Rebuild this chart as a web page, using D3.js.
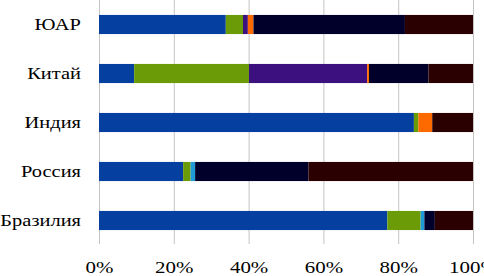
<!DOCTYPE html>
<html>
<head>
<meta charset="utf-8">
<script src="https://cdn.jsdelivr.net/npm/d3@7"></script>
<style>
  body { margin: 0; background: #fff; }
  svg { display: block; }
  text { font-family: "Liberation Serif", "Times New Roman", serif; }
</style>
</head>
<body>
<div id="chart"></div>
<script>
// categories, top to bottom
const countries = ["ЮАР", "Китай", "Индия", "Россия", "Бразилия"];

// series values (share in %), same order as countries
const s1 = [33.9, 9.4, 84.2, 22.5, 77.1];
const s2 = [4.6, 30.7, 1.2, 2.0, 8.9];
const s3 = [0, 0, 0, 1.2, 1.0];
const s4 = [1.3, 31.6, 0, 0, 0];
const s5 = [1.5, 0.5, 3.7, 0, 0];
const s6 = [40.5, 15.9, 0, 30.3, 2.8];
const s7 = [18.2, 11.9, 10.9, 44.0, 10.2];

const tickValues = [0, 0.2, 0.4, 0.6, 0.8, 1];

const colors = ["#0540a0", "#6b9c08", "#1f9bd6", "#3d1080", "#ff6a00", "#00002a", "#2a0000"];

const width = 484;
const height = 276;
const plot = { left: 99, right: 473, top: 0, bottom: 244 };

const series = [s1, s2, s3, s4, s5, s6, s7];
const keys = series.map((s, i) => "s" + i);

// build table for d3.stack
const table = countries.map((c, j) => {
  const row = { country: c };
  series.forEach((s, i) => { row[keys[i]] = s[j]; });
  return row;
});

const stacked = d3.stack().keys(keys).offset(d3.stackOffsetExpand)(table);

const svg = d3.select("#chart").append("svg")
    .attr("width", width)
    .attr("height", height);

const x = d3.scaleLinear()
    .domain([0, 1])
    .range([plot.left, plot.right]);

const y = d3.scaleBand()
    .domain(countries)
    .range([plot.top, plot.bottom + 1])
    .paddingInner(0.61)
    .paddingOuter(0.305);

// gridlines + tick labels
const xAxis = svg.append("g")
    .attr("transform", "translate(0," + plot.bottom + ")")
    .call(d3.axisBottom(x)
      .tickValues(tickValues)
      .tickSize(-plot.bottom)
      .tickFormat(d3.format(".0%")));

xAxis.select(".domain").remove();
xAxis.selectAll("line").attr("stroke", "#c4c4c4");
xAxis.selectAll("text")
    .attr("y", 29)
    .attr("dy", 0)
    .attr("fill", "#000")
    .style("font-family", "'Liberation Serif', 'Times New Roman', serif")
    .style("font-size", "16.5px")
    .attr("transform", "scale(1.27,1)");

// bars
svg.append("g")
  .selectAll("g")
  .data(stacked)
  .join("g")
    .attr("fill", (d, i) => colors[i])
  .selectAll("rect")
  .data(d => d)
  .join("rect")
    .attr("x", d => x(d[0]))
    .attr("y", d => y(d.data.country))
    .attr("width", d => x(d[1]) - x(d[0]))
    .attr("height", y.bandwidth());

// category labels
svg.append("g")
  .selectAll("g")
  .data(countries)
  .join("g")
    .attr("transform", d => "translate(81," + (y(d) + y.bandwidth() / 2) + ")")
  .append("text")
    .attr("text-anchor", "end")
    .attr("dy", "0.35em")
    .style("font-family", "'Liberation Serif', 'Times New Roman', serif")
    .style("font-size", "16.5px")
    .attr("transform", "scale(1.24,1)")
    .text(d => d);
</script>
</body>
</html>
